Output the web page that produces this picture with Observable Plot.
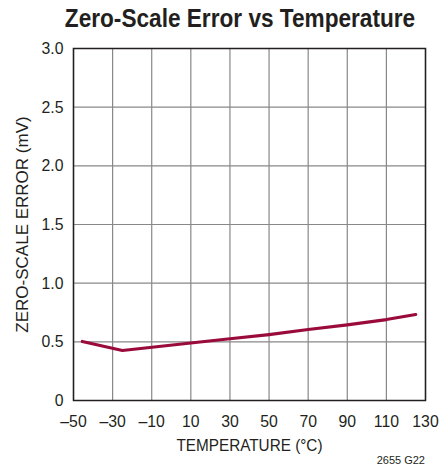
<!DOCTYPE html>
<html>
<head>
<meta charset="utf-8">
<script src="https://cdn.jsdelivr.net/npm/d3@7"></script>
<script src="https://cdn.jsdelivr.net/npm/@observablehq/plot@0.6"></script>
<style>
  body { margin: 0; background: #fff; font-family: "Liberation Sans", Arial, sans-serif; }
  #title { height: 30px; width: 439px; position: relative; z-index: 2; }
  #title span { position: absolute; left: 240px; top: 2px; transform: translateX(-50%) scaleX(0.87); white-space: nowrap; font-weight: bold; font-size: 26px; line-height: 32px; color: #231f20; }
  #chart { position: relative; width: 439px; }
  #chart svg { background: transparent !important; }
  #caption { position: absolute; right: 14px; top: 424px; font-size: 11px; color: #231f20; }
</style>
</head>
<body>
<div id="title"><span>Zero-Scale Error vs Temperature</span></div>
<div id="chart"><div id="caption">2655 G22</div></div>
<script>
const temperature = [-45.5, -25, 10, 30, 50, 70, 90, 110, 125];
const errorMV = [0.503, 0.426, 0.49, 0.526, 0.562, 0.605, 0.645, 0.69, 0.733];
const xTicks = [-50, -30, -10, 10, 30, 50, 70, 90, 110, 130];
const yTicks = [0, 0.5, 1.0, 1.5, 2.0, 2.5, 3.0];

const data = temperature.map((t, i) => ({t, v: errorMV[i]}));
const fmtX = d => d < 0 ? "–" + Math.abs(d) : String(d);
const fmtY = d => d === 0 ? "0" : d.toFixed(1);

const chart = Plot.plot({
  width: 439,
  height: 439,
  marginLeft: 73,
  marginRight: 14,
  marginTop: 18,
  marginBottom: 69,
  style: { fontFamily: "'Liberation Sans', Arial, sans-serif", fontSize: "17px", color: "#231f20", background: "transparent" },
  x: { domain: [-50, 130] },
  y: { domain: [0, 3] },
  marks: [
    Plot.ruleX(xTicks, { stroke: "#888", strokeWidth: 1.2 }),
    Plot.ruleY(yTicks, { stroke: "#888", strokeWidth: 1.2 }),
    Plot.line(data, { x: "t", y: "v", stroke: "#9a0b3c", strokeWidth: 3.2, curve: "linear" }),
    Plot.frame({ stroke: "#231f20", strokeWidth: 1.5 }),
    Plot.axisX({ ticks: xTicks, tickSize: 0, tickPadding: 14, fontSize: 17, label: "TEMPERATURE (°C)", labelAnchor: "center", labelOffset: 50, labelArrow: "none", tickFormat: fmtX }),
    Plot.axisY({ ticks: yTicks, tickSize: 0, tickPadding: 10, fontSize: 17, label: "ZERO-SCALE ERROR (mV)", labelAnchor: "center", labelOffset: 58, labelArrow: "none", tickFormat: fmtY })
  ]
});
// condense text horizontally (reference uses a condensed face)
chart.querySelectorAll('g[aria-label$="tick label"] text').forEach(t => {
  const tr = t.getAttribute("transform") || "";
  t.setAttribute("transform", tr + " scale(0.93,1)");
});
chart.querySelectorAll('g[aria-label="x-axis label"] text').forEach(t => {
  const tr = t.getAttribute("transform") || "";
  t.setAttribute("transform", tr + " scale(0.9,1)");
});
document.getElementById("chart").prepend(chart);
</script>
</body>
</html>
